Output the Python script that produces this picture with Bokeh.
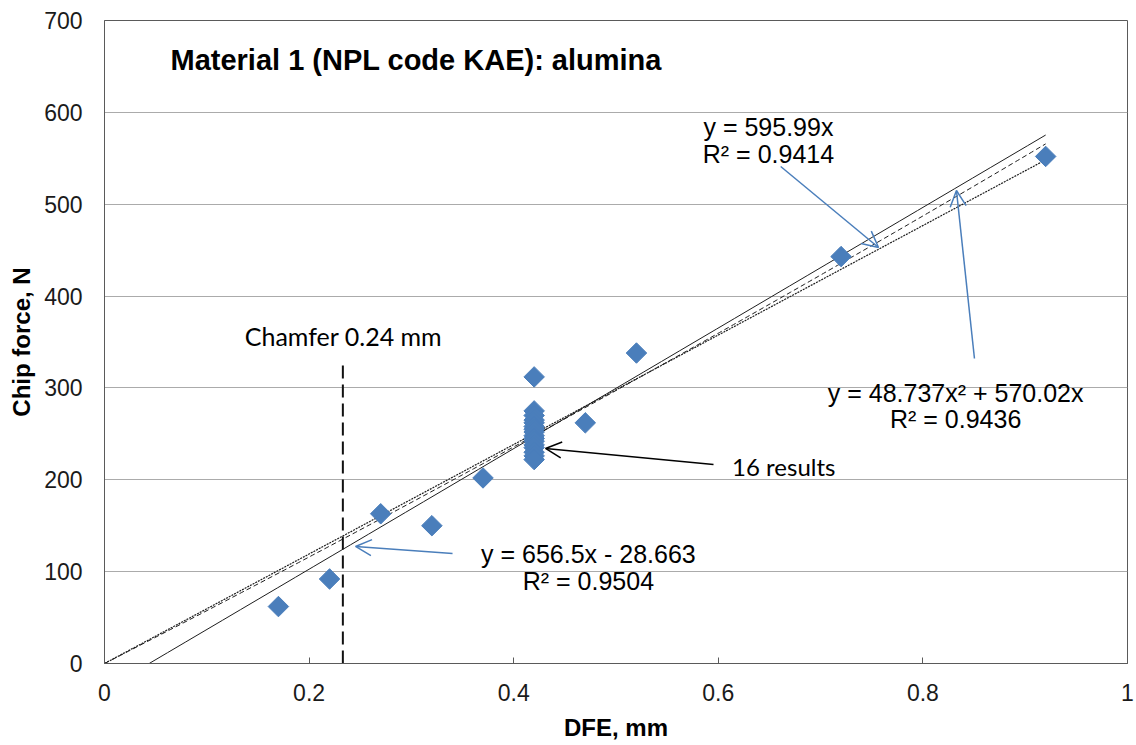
import numpy as np
from bokeh.plotting import figure
from bokeh.models import Range1d, FixedTicker, Label, Arrow, OpenHead
from bokeh.embed import file_html
from bokeh.resources import INLINE

# ---------------- data ----------------
dfe_mm = [0.17, 0.22, 0.27, 0.32, 0.37,
          0.42, 0.42, 0.42, 0.42, 0.42, 0.42, 0.42, 0.42,
          0.42, 0.42, 0.42, 0.42, 0.42, 0.42, 0.42, 0.42,
          0.47, 0.52, 0.72, 0.92]
chip_force_n = [62, 92, 163, 150, 202,
                312, 275, 270, 265, 262, 258, 255, 252,
                248, 245, 242, 238, 235, 230, 226, 222,
                262, 338, 443, 552]

# trendline coefficients
lin_slope, lin_intercept = 656.5, -28.663
origin_slope = 595.99
poly_a2, poly_a1 = 48.737, 570.02
trend_x_max = 0.92

chamfer_x = 0.233
chamfer_top = 331

x_ticks = [0, 0.2, 0.4, 0.6, 0.8, 1.0]
x_tick_labels = ["0", "0.2", "0.4", "0.6", "0.8", "1"]
y_ticks = [0, 100, 200, 300, 400, 500, 600, 700]

title_text = "Material 1 (NPL code KAE):  alumina"
eq_origin = ["y = 595.99x", "R\u00b2 = 0.9414"]
eq_poly = ["y = 48.737x\u00b2 + 570.02x", "R\u00b2 = 0.9436"]
eq_lin = ["y = 656.5x - 28.663", "R\u00b2 = 0.9504"]

# annotation positions (data units)
title_pos = (0.0645, 657.5)
eq_origin_pos = (0.649, [584.1, 555.2])
eq_poly_pos = (0.832, [295.0, 266.7])
eq_lin_pos = (0.473, [118.7, 89.3])
results_pos = (0.664, 214.5)
chamfer_label_pos = (0.2336, 356.5)

arrow_origin = (0.661, 541.1, 0.7566, 452.9)
arrow_poly = (0.8504, 332.0, 0.8328, 514.9)
arrow_lin = (0.3402, 119.75, 0.2454, 127.4)
arrow_results = (0.5953, 216.6, 0.4311, 234.1)

# ---------------- figure ----------------
p = figure(width=1136, height=745, output_backend="svg", toolbar_location=None,
           x_range=Range1d(0, 1), y_range=Range1d(0, 700),
           min_border_left=104, min_border_right=9, min_border_top=20, min_border_bottom=82)
p.background_fill_color = "white"
p.border_fill_color = "white"
p.outline_line_color = "#5a5a5a"
p.outline_line_width = 1

p.xgrid.visible = False
p.ygrid.grid_line_color = "#ababab"
p.ygrid.grid_line_width = 1
p.ygrid.ticker = FixedTicker(ticks=y_ticks)

p.xaxis.ticker = FixedTicker(ticks=x_ticks)
p.xaxis.major_label_overrides = {float(t): l for t, l in zip(x_ticks, x_tick_labels)}
p.yaxis.ticker = FixedTicker(ticks=y_ticks)

for ax in (p.xaxis, p.yaxis):
    ax.axis_line_color = "#5a5a5a"
    ax.minor_tick_line_color = None
    ax.major_label_text_font = "Liberation Sans"
    ax.major_label_text_font_size = "23px"
    ax.major_label_text_color = "#1a1a1a"
    ax.axis_label_text_font = "Liberation Sans"
    ax.axis_label_text_font_size = "24px"
    ax.axis_label_text_font_style = "bold"
    ax.axis_label_text_color = "#000000"

p.xaxis.major_tick_in = 6
p.xaxis.major_tick_out = 0
p.xaxis.major_tick_line_color = "#5a5a5a"
p.xaxis.major_label_standoff = 20
p.xaxis.axis_label_standoff = 10
p.xaxis.axis_label = "DFE, mm"

p.yaxis.major_tick_in = 0
p.yaxis.major_tick_out = 0
p.yaxis.major_tick_line_color = None
p.yaxis.major_label_standoff = 22
p.yaxis.axis_label_standoff = 6
p.yaxis.axis_label = "Chip force, N"

# trendlines
x_lin = np.linspace(-lin_intercept / lin_slope, trend_x_max, 50)
p.line(x_lin, lin_slope * x_lin + lin_intercept, line_color="#1e1e1e", line_width=1)
x_all = np.linspace(0, trend_x_max, 200)
p.line(x_all, poly_a2 * x_all ** 2 + poly_a1 * x_all, line_color="#1e1e1e",
       line_width=1, line_dash="5 3")
p.line(x_all, origin_slope * x_all, line_color="#1e1e1e", line_width=1.2, line_dash="2 1")

# chamfer line
p.line([chamfer_x, chamfer_x], [0, chamfer_top], line_color="#111111", line_width=2,
       line_dash="13 6")

# data points
p.scatter(dfe_mm, chip_force_n, marker="square", size=14.5, angle=np.pi / 4,
          fill_color="#4a7ebb", line_color="#4a7ebb")

# labels
def add_label(x, y, text, font="Liberation Sans", size="25px", align="center", style="normal"):
    p.add_layout(Label(x=x, y=y, text=text, text_font=font, text_font_size=size,
                       text_align=align, text_baseline="middle", text_color="#000000",
                       text_font_style=style))

add_label(title_pos[0], title_pos[1], title_text, size="29px", align="left", style="bold")
for pos, lines in ((eq_origin_pos, eq_origin), (eq_poly_pos, eq_poly), (eq_lin_pos, eq_lin)):
    for yy, t in zip(pos[1], lines):
        add_label(pos[0], yy, t)
add_label(results_pos[0], results_pos[1], "16 results", font="Lato", size="24px")
add_label(chamfer_label_pos[0], chamfer_label_pos[1], "Chamfer 0.24 mm", font="Lato", size="25px")

# arrows
blue = "#4a7ebb"
for (xs, ys, xe, ye), col in ((arrow_origin, blue), (arrow_poly, blue),
                              (arrow_lin, blue), (arrow_results, "#000000")):
    p.add_layout(Arrow(end=OpenHead(size=16, line_color=col, line_width=1.5),
                       x_start=xs, y_start=ys, x_end=xe, y_end=ye,
                       line_color=col, line_width=1.5))

open("out.html", "w").write(file_html(p, INLINE))
